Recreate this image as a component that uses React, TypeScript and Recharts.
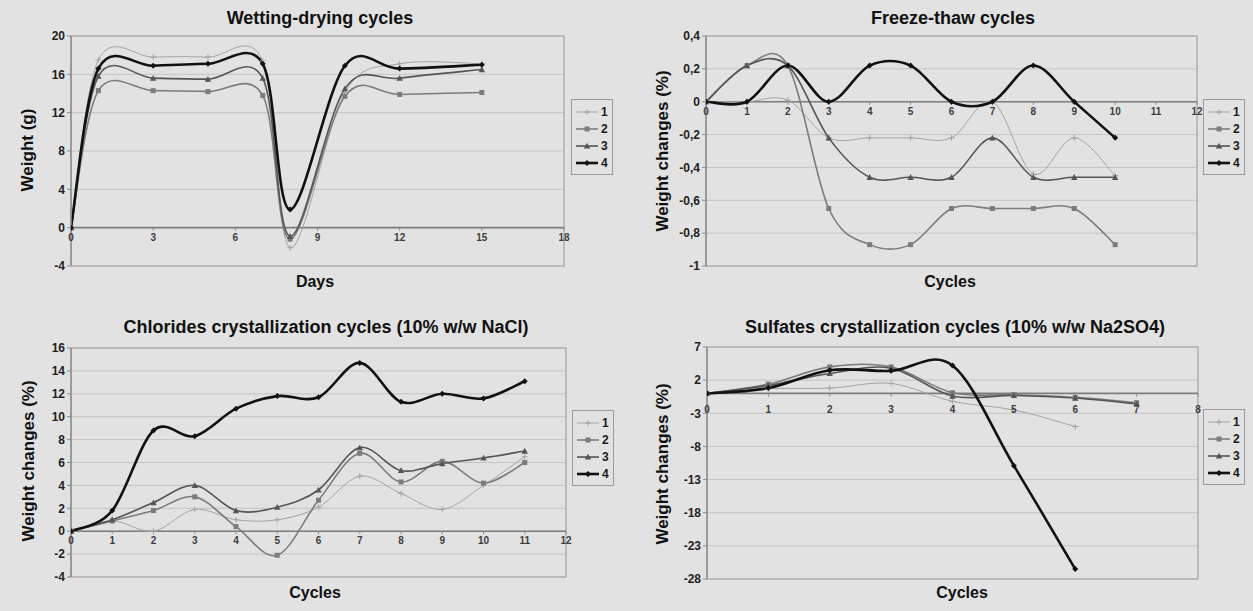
import React from "react";
import {
  LineChart, Line, XAxis, YAxis, CartesianGrid,
  ReferenceLine, ReferenceArea, ReferenceDot, Legend,
} from "recharts";

// ─── Look ─────────────────────────────────────────────────────────────
const FONT = '"Liberation Sans", Arial, sans-serif';
const BG = "#e2e2e2";

// ─── Wetting-drying data (days) ───────────────────────────────────────
const WD_DAYS = [0, 1, 3, 5, 7, 8, 10, 12, 15];
const WD_S1 = [0, 17.5, 17.8, 17.8, 17.4, -2.1, 14.1, 17.1, 17.1];
const WD_S2 = [0, 14.3, 14.3, 14.2, 13.8, -1.2, 13.7, 13.9, 14.1];
const WD_S3 = [0, 15.8, 15.6, 15.5, 15.6, -0.9, 14.5, 15.6, 16.5];
const WD_S4 = [0, 16.6, 16.9, 17.1, 17.1, 1.9, 16.9, 16.6, 17.0];
const WD_X_TICKS = [0, 3, 6, 9, 12, 15, 18];
const WD_Y_TICKS = [-4, 0, 4, 8, 12, 16, 20];

// ─── Freeze-thaw data (cycles) ────────────────────────────────────────
const FT_CYCLES = [0, 1, 2, 3, 4, 5, 6, 7, 8, 9, 10];
const FT_S1 = [0, 0, 0.01, -0.22, -0.22, -0.22, -0.22, 0, -0.44, -0.22, -0.45];
const FT_S2 = [0, 0.22, 0.22, -0.65, -0.87, -0.87, -0.65, -0.65, -0.65, -0.65, -0.87];
const FT_S3 = [0, 0.22, 0.22, -0.22, -0.46, -0.46, -0.46, -0.22, -0.46, -0.46, -0.46];
const FT_S4 = [0, 0, 0.22, 0, 0.22, 0.22, 0, 0, 0.22, 0, -0.22];
const FT_X_TICKS = [0, 1, 2, 3, 4, 5, 6, 7, 8, 9, 10, 11, 12];
const FT_Y_TICKS = [-1, -0.8, -0.6, -0.4, -0.2, 0, 0.2, 0.4];

// ─── Chlorides data ───────────────────────────────────────────────────
const CL_CYCLES = [0, 1, 2, 3, 4, 5, 6, 7, 8, 9, 10, 11];
const CL_S1 = [0, 0.9, 0, 1.9, 1.0, 1.0, 2.1, 4.8, 3.3, 1.9, 4.0, 6.5];
const CL_S2 = [0, 0.9, 1.8, 3.0, 0.4, -2.1, 2.7, 6.8, 4.3, 6.1, 4.2, 6.0];
const CL_S3 = [0, 1.0, 2.5, 4.0, 1.8, 2.1, 3.6, 7.3, 5.3, 5.9, 6.4, 7.0];
const CL_S4 = [0, 1.8, 8.8, 8.3, 10.7, 11.8, 11.7, 14.7, 11.3, 12.0, 11.6, 13.1];
const CL_X_TICKS = [0, 1, 2, 3, 4, 5, 6, 7, 8, 9, 10, 11, 12];
const CL_Y_TICKS = [-4, -2, 0, 2, 4, 6, 8, 10, 12, 14, 16];

// ─── Sulfates data ────────────────────────────────────────────────────
const SU_CYCLES = [0, 1, 2, 3, 4, 5, 6, 7];
const SU_S1 = [0, 0.7, 0.8, 1.5, -1.2, -2.5, -5.0, null];
const SU_S2 = [0, 1.4, 4.0, 4.0, 0.1, -0.2, -0.6, -1.4];
const SU_S3 = [0, 1.2, 3.0, 3.8, -0.4, -0.3, -0.7, -1.6];
const SU_S4 = [0, 0.8, 3.5, 3.4, 4.2, -10.9, -26.5, null];
const SU_X_TICKS = [0, 1, 2, 3, 4, 5, 6, 7, 8];
const SU_Y_TICKS = [-28, -23, -18, -13, -8, -3, 2, 7];

const SERIES = [
  { key: "s1", name: "1", color: "#a4a4a4", width: 1, marker: "plus" },
  { key: "s2", name: "2", color: "#7c7c7c", width: 1.6, marker: "square" },
  { key: "s3", name: "3", color: "#555555", width: 1.6, marker: "triangle" },
  { key: "s4", name: "4", color: "#111111", width: 2.6, marker: "diamond" },
];

const toRows = (xs: number[], a: any[], b: any[], c: any[], d: any[]) =>
  xs.map((x, i) => ({ x, s1: a[i], s2: b[i], s3: c[i], s4: d[i] }));

const wdRows = toRows(WD_DAYS, WD_S1, WD_S2, WD_S3, WD_S4);
const ftRows = toRows(FT_CYCLES, FT_S1, FT_S2, FT_S3, FT_S4);
const clRows = toRows(CL_CYCLES, CL_S1, CL_S2, CL_S3, CL_S4);
const suRows = toRows(SU_CYCLES, SU_S1, SU_S2, SU_S3, SU_S4);

// Excel-like smoothed line (Catmull-Rom through the points)
function excelCurve(ctx: any) {
  let pts: number[][] = [];
  return {
    areaStart() {},
    areaEnd() {},
    lineStart() { pts = []; },
    point(x: number, y: number) { pts.push([+x, +y]); },
    lineEnd() {
      const n = pts.length;
      if (!n) return;
      ctx.moveTo(pts[0][0], pts[0][1]);
      for (let i = 0; i < n - 1; i++) {
        const p0 = pts[Math.max(0, i - 1)];
        const p1 = pts[i];
        const p2 = pts[i + 1];
        const p3 = pts[Math.min(n - 1, i + 2)];
        ctx.bezierCurveTo(
          p1[0] + (p2[0] - p0[0]) / 6, p1[1] + (p2[1] - p0[1]) / 6,
          p2[0] - (p3[0] - p1[0]) / 6, p2[1] - (p3[1] - p1[1]) / 6,
          p2[0], p2[1],
        );
      }
    },
  };
}

function Marker({ kind, cx, cy, color }: any) {
  if (kind === "plus")
    return <path d={`M${cx - 3},${cy}h6M${cx},${cy - 3}v6`} stroke={color} strokeWidth={1} fill="none" />;
  if (kind === "square")
    return <rect x={cx - 2.5} y={cy - 2.5} width={5} height={5} fill={color} />;
  if (kind === "triangle")
    return <path d={`M${cx},${cy - 3.2}L${cx + 3.2},${cy + 2.6}L${cx - 3.2},${cy + 2.6}Z`} fill={color} />;
  return <path d={`M${cx},${cy - 3}L${cx + 3},${cy}L${cx},${cy + 3}L${cx - 3},${cy}Z`} fill={color} />;
}

function LegendBox() {
  return (
    <div style={{ border: "1px solid #9c9c9c", background: BG, padding: "3px 4px 3px 3px", fontFamily: FONT }}>
      {SERIES.map((s) => (
        <div key={s.key} style={{ display: "flex", alignItems: "center", height: 17 }}>
          <svg width={24} height={12}>
            <line x1={1} x2={23} y1={6} y2={6} stroke={s.color} strokeWidth={s.width} />
            <Marker kind={s.marker} cx={12} cy={6} color={s.color} />
          </svg>
          <span style={{ fontSize: 12, fontWeight: 700, marginLeft: 2, color: "#1a1a1a" }}>{s.name}</span>
        </div>
      ))}
    </div>
  );
}

const tickMark = (p: any) => (
  <line x1={p.cx} x2={p.cx} y1={p.cy} y2={p.cy + 3} stroke="#8a8a8a" strokeWidth={1} />
);

const comma = (v: number) => String(v).replace(".", ",");

function Panel({ data, xMax, xTicks, yDomain, yTicks, width, height, margin, legendPos, fmt, labelGap = 6 }: any) {
  return (
    <LineChart width={width} height={height} data={data} margin={margin}>
      <CartesianGrid vertical={false} stroke="#c4c4c4" />
      <XAxis type="number" dataKey="x" domain={[0, xMax]} hide allowDataOverflow />
      <YAxis
        type="number" domain={yDomain} ticks={yTicks} interval={0} allowDataOverflow width={30}
        tickSize={4} tickFormatter={fmt}
        tick={{ fontSize: 12, fontWeight: 700, fill: "#1e1e1e", fontFamily: FONT }}
        tickLine={{ stroke: "#8a8a8a" }} axisLine={{ stroke: "#8f8f8f", strokeWidth: 1.5 }}
      />
      <ReferenceArea x1={0} x2={xMax} y1={yDomain[0]} y2={yDomain[1]} fill="none" stroke="#a2a2a2" strokeWidth={1.2} />
      <ReferenceLine y={0} stroke="#7d7d7d" strokeWidth={1.6} />
      {xTicks.map((t: number) => (
        <ReferenceDot
          key={t} x={t} y={0} r={0} shape={tickMark}
          label={{ value: String(t), position: "bottom", offset: labelGap, fontSize: 10, fontWeight: 700, fill: "#3c3c3c", fontFamily: FONT }}
        />
      ))}
      {SERIES.map((s) => (
        <Line
          key={s.key} dataKey={s.key} name={s.name} type={excelCurve as any}
          stroke={s.color} strokeWidth={s.width} activeDot={false} isAnimationActive={false}
          dot={(p: any) =>
            p.cy == null || p.value == null ? <g key={p.index} /> : (
              <g key={p.index}><Marker kind={s.marker} cx={p.cx} cy={p.cy} color={s.color} /></g>
            )
          }
        />
      ))}
      <Legend
        layout="vertical" align="center" verticalAlign="middle"
        wrapperStyle={{ left: legendPos[0], top: legendPos[1] }}
        content={() => <LegendBox />}
      />
    </LineChart>
  );
}

function Txt({ x, y, children, rotate, size = 16 }: any) {
  return (
    <div
      style={{
        position: "absolute", left: x, top: y, whiteSpace: "nowrap",
        transform: `translate(-50%, -50%)${rotate ? " rotate(-90deg)" : ""}`,
        fontFamily: FONT, fontWeight: 700, fontSize: size, color: "#111",
      }}
    >
      {children}
    </div>
  );
}

export default function App() {
  return (
    <div style={{ position: "fixed", left: 0, top: 0, width: 1253, height: 611, background: BG, overflow: "hidden" }}>
      <div style={{ position: "absolute", left: 0, top: 0 }}>
        <Panel
          data={wdRows} xMax={18} xTicks={WD_X_TICKS} yDomain={[-4, 20]} yTicks={WD_Y_TICKS}
          width={626} height={300} margin={{ top: 36, right: 62, bottom: 34, left: 41 }} legendPos={[571, 99]}
        />
      </div>
      <div style={{ position: "absolute", left: 626, top: 0 }}>
        <Panel
          data={ftRows} xMax={12} xTicks={FT_X_TICKS} yDomain={[-1, 0.4]} yTicks={FT_Y_TICKS} fmt={comma}
          width={627} height={300} margin={{ top: 36, right: 56, bottom: 34, left: 50 }} legendPos={[577, 99]}
        />
      </div>
      <div style={{ position: "absolute", left: 0, top: 300 }}>
        <Panel
          data={clRows} xMax={12} xTicks={CL_X_TICKS} yDomain={[-4, 16]} yTicks={CL_Y_TICKS}
          width={626} height={311} margin={{ top: 48, right: 60, bottom: 34, left: 41 }} legendPos={[572, 110]}
        />
      </div>
      <div style={{ position: "absolute", left: 626, top: 300 }}>
        <Panel
          data={suRows} xMax={8} xTicks={SU_X_TICKS} yDomain={[-28, 7]} yTicks={SU_Y_TICKS} labelGap={12}
          width={627} height={311} margin={{ top: 47, right: 55, bottom: 32, left: 51 }} legendPos={[577, 109]}
        />
      </div>

      <Txt x={320} y={18} size={18}>Wetting-drying cycles</Txt>
      <Txt x={953} y={18} size={18}>Freeze-thaw cycles</Txt>
      <Txt x={326} y={327} size={18}>Chlorides crystallization cycles (10% w/w NaCl)</Txt>
      <Txt x={955} y={327} size={18}>Sulfates crystallization cycles (10% w/w Na2SO4)</Txt>

      <Txt x={28} y={150} rotate size={17}>Weight (g)</Txt>
      <Txt x={663} y={151} rotate size={17}>Weight changes (%)</Txt>
      <Txt x={29} y={461} rotate size={17}>Weight changes (%)</Txt>
      <Txt x={663} y={464} rotate size={17}>Weight changes (%)</Txt>

      <Txt x={315} y={282}>Days</Txt>
      <Txt x={950} y={282}>Cycles</Txt>
      <Txt x={315} y={593}>Cycles</Txt>
      <Txt x={962} y={593}>Cycles</Txt>
    </div>
  );
}
